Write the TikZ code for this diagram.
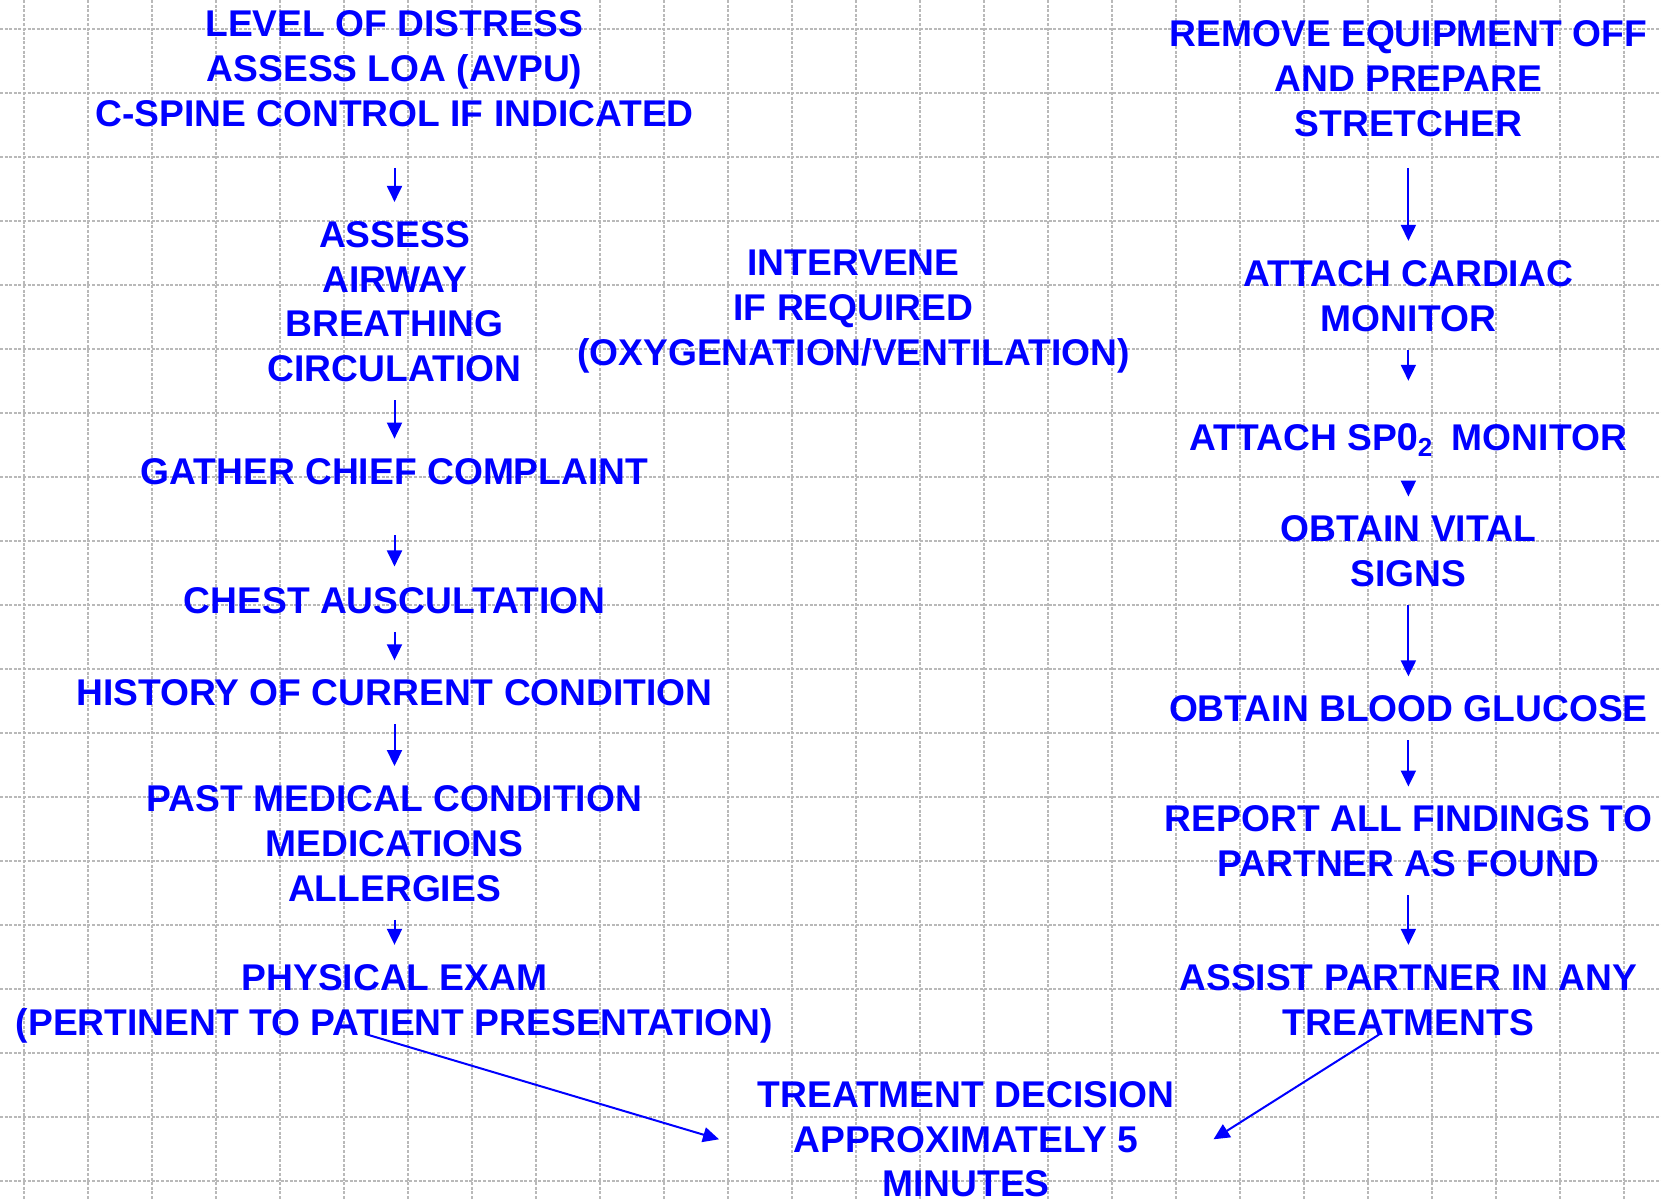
\documentclass[tikz,border=0pt]{standalone}
\usepackage{fontspec}
\setmainfont{Liberation Sans}
\newfontfamily\zerofont{TeX Gyre Heros}
\usetikzlibrary{arrows.meta}
\definecolor{flowblue}{RGB}{0,0,255}
\definecolor{gridgray}{RGB}{185,185,185}
\tikzset{
  gridline/.style={gridgray, line width=1pt, dash pattern=on 1.5pt off 0.8pt},
  flowtext/.style={text=flowblue, font=\bfseries\fontsize{18.6}{22.4}\selectfont,
    align=center, inner sep=0pt, anchor=base},
  flowarrow/.style={draw=flowblue, line width=1pt,
    -{Triangle[width=7.5pt,length=8pt]}, shorten <=9pt, shorten >=9.5pt}
}
\begin{document}
\begin{tikzpicture}[x=0.5pt,y=-0.5pt]
    %% page and grid
    \fill[white] (0,0) rectangle (1661,1200);
    \useasboundingbox (0,0) rectangle (1661,1200);
    \foreach \gx in {0,...,25}
      \draw[gridline] ({24+64*\gx},0) -- ({24+64*\gx},1200);
    \foreach \gy in {0,...,18}
      \draw[gridline] (0,{29+64*\gy}) -- (1661,{29+64*\gy});
    %% left column (nodes sit on their last baseline)
    \node[flowtext] (distress) at (394.5,126.5)
      {LEVEL OF DISTRESS\\ASSESS LOA (AVPU)\\C-SPINE CONTROL IF INDICATED};
    \node[flowtext] (abc) at (394.5,381.7)
      {ASSESS\\AIRWAY\\BREATHING\\CIRCULATION};
    \node[flowtext] (complaint) at (394.5,484) {GATHER CHIEF COMPLAINT};
    \node[flowtext] (chest) at (394.5,613) {CHEST AUSCULTATION};
    \node[flowtext] (history) at (394.5,705.7) {HISTORY OF CURRENT CONDITION};
    \node[flowtext] (past) at (394.5,901)
      {PAST MEDICAL CONDITION\\MEDICATIONS\\ALLERGIES};
    \node[flowtext] (exam) at (394.5,1035)
      {PHYSICAL EXAM\\(PERTINENT TO PATIENT PRESENTATION)};
    %% middle
    \node[flowtext] (intervene) at (853.5,365)
      {INTERVENE\\IF REQUIRED\\(OXYGENATION/VENTILATION)};
    \node[flowtext] (decision) at (966,1196.9)
      {TREATMENT DECISION\\APPROXIMATELY 5\\MINUTES};
    %% right column
    \node[flowtext] (stretcher) at (1408.4,136)
      {REMOVE EQUIPMENT OFF\\AND PREPARE\\STRETCHER};
    \node[flowtext] (cardiac) at (1408.4,331) {ATTACH CARDIAC\\MONITOR};
    \node[flowtext] (spo) at (1408.4,450.5)
      {ATTACH SP{\zerofont 0}\textsubscript{2}\enspace MONITOR};
    \node[flowtext] (vitals) at (1408.4,586.7) {OBTAIN VITAL\\SIGNS};
    \node[flowtext] (glucose) at (1408.4,721.7) {OBTAIN BLOOD GLUCOSE};
    \node[flowtext] (report) at (1408.4,876.7)
      {REPORT ALL FINDINGS TO\\PARTNER AS FOUND};
    \node[flowtext] (assist) at (1408.4,1035)
      {ASSIST PARTNER IN ANY\\TREATMENTS};
    %% arrows
    \draw[flowarrow,shorten <=20.25pt] (distress) -- (abc);
    \draw[flowarrow] (abc) -- (complaint);
    \draw[flowarrow,shorten <=25.3pt,shorten >=10.1pt] (complaint) -- (chest);
    \draw[flowarrow] (chest) -- (history);
    \draw[flowarrow] (history) -- (past);
    \draw[flowarrow] (past) -- (exam);
    \draw[flowarrow,shorten <=15.8pt] (stretcher) -- (cardiac);
    \draw[flowarrow,shorten >=21.2pt] (cardiac) -- (spo);
    \draw[flowarrow,shorten <=12.25pt] (spo) -- (vitals);
    \draw[flowarrow] (vitals) -- (glucose);
    \draw[flowarrow] (glucose) -- (report);
    \draw[flowarrow] (report) -- (assist);
    \draw[flowarrow,shorten <=0pt,shorten >=0pt]
      ([xshift=-14.25pt,yshift=4.45pt]exam.south) -- ([xshift=-19.1pt]decision.west);
    \draw[flowarrow,shorten <=0pt,shorten >=0pt]
      ([xshift=-14.7pt,yshift=0.6pt]assist.south) -- ([xshift=19.35pt]decision.east);
\end{tikzpicture}
\end{document}
